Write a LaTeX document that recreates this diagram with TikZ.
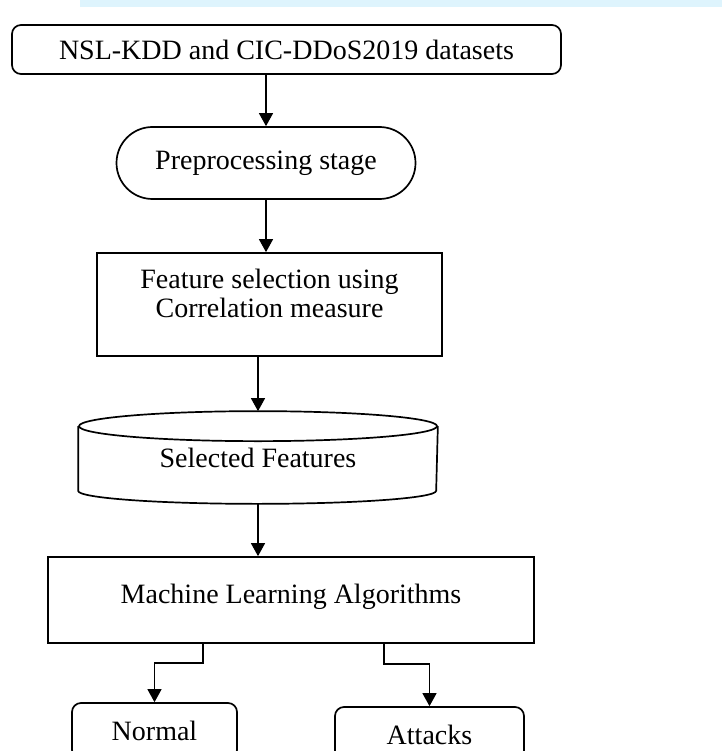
\documentclass[tikz,border=0pt]{standalone}
\usepackage{fontspec}
\setmainfont{Liberation Serif}
\usetikzlibrary{arrows.meta,shapes.misc}
\tikzset{
  box/.style={draw, line width=1.7pt, align=center, inner sep=0pt,
    font=\fontsize{28}{29.5}\selectfont},
  roundbox/.style={box, rounded corners=9pt},
  arrow/.style={line width=1.3pt, -{Triangle[width=14pt,length=13pt]}},
}
\begin{document}
\begin{tikzpicture}[x=1pt,y=-1pt]
            \useasboundingbox (0,0) rectangle (722,751);
            \clip (0,0) rectangle (722,751);
            \fill[cyan!13] (80,0) rectangle (722,7);
            \node[roundbox, minimum width=549pt, minimum height=49pt] (data) at (286.5,49.5) {NSL-KDD and CIC-DDoS2019 datasets};
            \node[box, rounded rectangle, minimum width=299pt, minimum height=72pt] (prep) at (266,163) {Preprocessing stage};
            \node[box, minimum width=345pt, minimum height=103pt, text depth=22pt] (fsel) at (269.5,304.5) {Feature selection using\\Correlation measure};
            \node[box, draw=none, minimum width=358pt, minimum height=91pt] (feat) at (258,457.5) {Selected Features};
            \node[box, minimum width=486pt, minimum height=86pt, text depth=13pt] (ml) at (291,600) {Machine Learning Algorithms};
            \node[roundbox, minimum width=165pt, minimum height=56pt] (norm) at (154.5,731) {Normal};
            \node[roundbox, minimum width=189pt, minimum height=56pt] (att) at (429.5,735) {Attacks};
            % cylinder round the selected features
            \draw[line width=1.7pt] ([yshift=-15pt]feat.north) ellipse [x radius=179pt, y radius=15pt];
            \draw[line width=1.7pt] ([yshift=-15pt]feat.north west) -- ([yshift=13pt]feat.south west)
                arc[start angle=180, end angle=360, x radius=179pt, y radius=13pt] -- ([yshift=-15pt]feat.north east);
            \draw[arrow] (prep.north |- data.south) -- (prep.north);
            \draw[arrow] (prep.south) -- (prep.south |- fsel.north);
            \draw[arrow] (feat.north |- fsel.south) -- (feat.north);
            \draw[arrow] (feat.south) -- (feat.south |- ml.north);
            \draw[arrow] ([xshift=-88pt]ml.south) -- ++(0,19) -| (norm.north);
            \draw[arrow] ([xshift=93pt]ml.south) -- ++(0,20) -| (att.north);
        \end{tikzpicture}
\end{document}
